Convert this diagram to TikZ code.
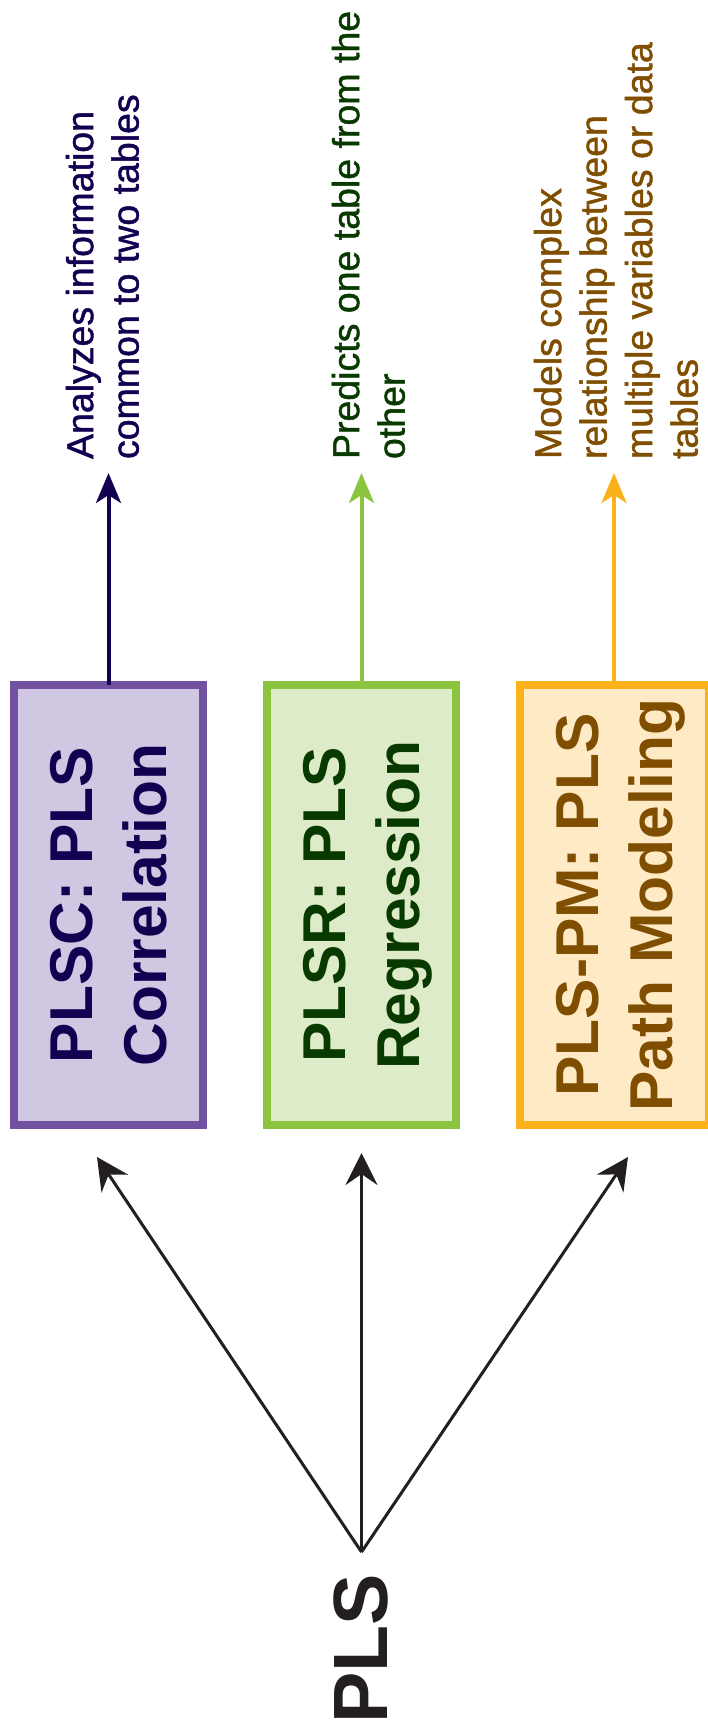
\documentclass[tikz,border=0pt]{standalone}
\usepackage{fontspec}
\setmainfont{Liberation Sans}
\newfontfamily\descfont[FakeBold=1.2]{Liberation Sans}
\usetikzlibrary{arrows.meta}
\definecolor{pvfill}{RGB}{208,200,226}
\definecolor{pvline}{RGB}{112,82,160}
\definecolor{pvtext}{RGB}{20,0,80}
\definecolor{grfill}{RGB}{222,235,201}
\definecolor{grline}{RGB}{139,197,63}
\definecolor{grtext}{RGB}{8,58,0}
\definecolor{orfill}{RGB}{255,234,198}
\definecolor{orline}{RGB}{251,178,26}
\definecolor{ortext}{RGB}{127,78,0}
\definecolor{inkc}{RGB}{35,31,32}
\begin{document}
\begin{tikzpicture}[x=1pt,y=-1pt,
  methodbox/.style={rotate=90, draw, line width=8pt, minimum width=440pt,
    minimum height=189pt, inner sep=0pt, outer sep=0pt, align=center,
    font=\fontsize{60.5}{74}\selectfont\bfseries},
  desclabel/.style={rotate=90, anchor=south west, inner sep=0pt, outer sep=0pt,
    align=left, font=\descfont\fontsize{37.5}{45.5}\selectfont},
  uparrow/.style={line width=4pt, -{Stealth[length=30pt,width=25pt,inset=8pt]}},
  fanarrow/.style={line width=3pt, draw=inkc, -{Stealth[length=32pt,width=32pt,inset=11pt]}}
]
\useasboundingbox (0,0) rectangle (707,1727);

% method boxes
\node[methodbox, draw=pvline, fill=pvfill, text=pvtext] (plsc) at (108.5,905) {PLSC: PLS\\Correlation};
\node[methodbox, draw=grline, fill=grfill, text=grtext] (plsr) at (361.5,905) {PLSR: PLS\\\smash{Regression}};
\node[methodbox, draw=orline, fill=orfill, text=ortext] (plspm) at (614,905) {PLS-PM: PLS\\\smash{Path Modeling}};

% descriptions
\node[desclabel, text=pvtext] (d1) at (139,459) {Analyzes information\\common to two tables};
\node[desclabel, text=grtext] (d2) at (405,459) {Predicts one table from the\\other};
\node[desclabel, text=ortext] (d3) at (698,459) {Models complex\\relationship between\\multiple variables or data\\tables};

% arrow tips above boxes
\coordinate (a1) at (108.5,473);
\coordinate (a2) at (361.5,473);
\coordinate (a3) at (614,473);
\draw[uparrow, draw=pvtext] (plsc.east) -- (a1);
\draw[uparrow, draw=grline] (plsr.east) -- (a2);
\draw[uparrow, draw=orline] (plspm.east) -- (a3);

% PLS root
\node[rotate=90, anchor=south west, inner sep=0pt, text=inkc,
  font=\fontsize{77}{77}\selectfont\bfseries] (pls) at (388,1724) {PLS};
\coordinate (hub) at (361.5,1552);
\coordinate (tl) at (97,1157);
\coordinate (tm) at (361.5,1153);
\coordinate (tr) at (628,1157);
\draw[fanarrow] (hub) -- (tl);
\draw[fanarrow] (hub) -- (tm);
\draw[fanarrow] (hub) -- (tr);
\end{tikzpicture}
\end{document}
